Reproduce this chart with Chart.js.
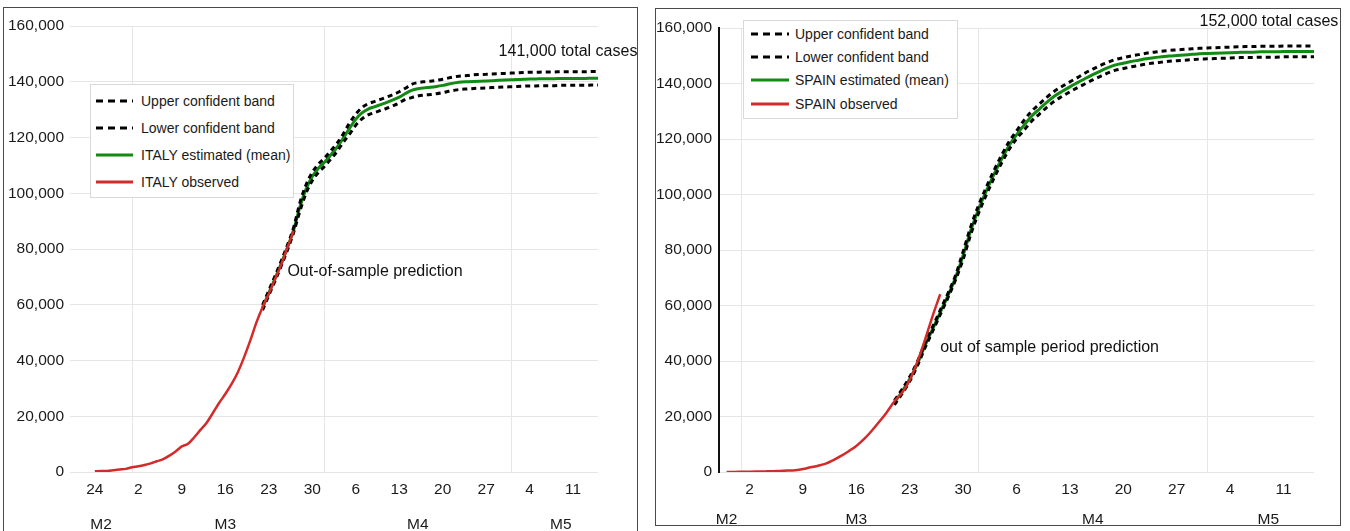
<!DOCTYPE html>
<html>
<head>
<meta charset="utf-8">
<script src="https://cdn.jsdelivr.net/npm/chart.js@4.4.1/dist/chart.umd.min.js"></script>
<style>
  body { margin:0; width:1350px; height:531px; background:#fff; position:relative; overflow:hidden; font-family:"Liberation Sans", Arial, sans-serif; }
  .frame { position:absolute; border:1.5px solid #4a4a4a; box-sizing:border-box; pointer-events:none; }
  .wrap { position:absolute; top:0; height:531px; }
  .legend { position:absolute; background:#fff; border:1px solid #d9d9d9; box-sizing:border-box; font-size:14px; color:#1a1a1a; }
  .legend .row { position:absolute; left:0; display:flex; align-items:center; white-space:nowrap; }
</style>
</head>
<body>
<div class="wrap" style="left:0;width:637px"><canvas id="italy" width="637" height="531"></canvas></div>
<div class="wrap" style="left:650px;width:700px"><canvas id="spain" width="700" height="531"></canvas></div>
<div class="frame" style="left:3px;top:7px;width:635px;height:560px"></div>
<div class="frame" style="left:655px;top:8px;width:686px;height:518px"></div>

<script>
// ---- categories / ticks ----
const monthStarts = ['2020-03-01', '2020-04-01', '2020-05-01'];
const monthNames = ['M2', 'M3', 'M4', 'M5'];
const italyMonthAt = ['2020-02-25', '2020-03-16', '2020-04-16', '2020-05-09'];
const spainMonthAt = ['2020-02-28', '2020-03-16', '2020-04-16', '2020-05-09'];
const italyWeekTicks = ['2020-02-24', '2020-03-02', '2020-03-09', '2020-03-16', '2020-03-23', '2020-03-30',
                        '2020-04-06', '2020-04-13', '2020-04-20', '2020-04-27', '2020-05-04', '2020-05-11'];
const spainWeekTicks = ['2020-03-02', '2020-03-09', '2020-03-16', '2020-03-23', '2020-03-30',
                        '2020-04-06', '2020-04-13', '2020-04-20', '2020-04-27', '2020-05-04', '2020-05-11'];

// ---- ITALY ----
const italyObservedStart = '2020-02-24';
const italyObserved = [229, 322, 400, 650, 888, 1128, 1694, 2036, 2502, 3089, 3858, 4636, 5883, 7375, 9172,
  10149, 12462, 15113, 17660, 21157, 24747, 27980, 31506, 35713, 41035, 47021, 53578, 59138, 63927, 69176,
  74386, 80539, 86498];
const italyModelStart = '2020-03-22';
const italyMean = [59000, 64200, 69400, 74800, 80500, 86800, 95000, 101500, 106000, 109000, 111200, 113800,
  116500, 119800, 123300, 126500, 128800, 130200, 131000, 131800, 132600, 133500, 134500, 135800, 136900,
  137500, 137800, 138000, 138300, 138700, 139200, 139600, 139900, 140000, 140100, 140200, 140300, 140400,
  140500, 140600, 140700, 140800, 140900, 141000, 141000, 141100, 141100, 141100, 141200, 141200, 141200,
  141200, 141200, 141300, 141300];
const italyUpper = [59900, 65100, 70300, 75700, 81400, 87700, 96500, 103000, 107500, 110500, 112700, 115300,
  118000, 121300, 125200, 128400, 130700, 132100, 132900, 133700, 134500, 135400, 136400, 137700, 139100,
  139700, 140000, 140200, 140500, 140900, 141400, 141800, 142100, 142200, 142500, 142600, 142700, 142800,
  142900, 143000, 143100, 143200, 143300, 143400, 143400, 143500, 143500, 143500, 143600, 143600, 143600,
  143600, 143600, 143700, 143700];
const italyLower = [58100, 63300, 68500, 73900, 79600, 85900, 93500, 100000, 104500, 107500, 109700, 112300,
  115000, 118300, 121200, 124400, 126700, 128100, 128900, 129700, 130500, 131400, 132400, 133700, 134300,
  134900, 135200, 135400, 135700, 136100, 136600, 137000, 137300, 137400, 137600, 137700, 137800, 137900,
  138000, 138100, 138200, 138300, 138400, 138500, 138500, 138600, 138600, 138600, 138700, 138700, 138700,
  138700, 138700, 138800, 138800];

// ---- SPAIN ----
const spainObservedStart = '2020-02-28';
const spainObserved = [32, 45, 84, 120, 165, 222, 259, 400, 500, 673, 1073, 1695, 2277, 3000, 4300, 5800,
  7500, 9400, 11826, 14769, 18077, 21571, 25496, 28572, 33089, 39673, 47610, 56188, 64059];
const spainModelStart = '2020-03-21';
const spainMean = [25000, 29000, 33500, 39000, 45500, 51500, 57500, 63500, 70000, 78000, 87000, 94500,
  101000, 107000, 112500, 117500, 121500, 125000, 128300, 130800, 133300, 135500, 137200, 138800, 140300,
  141800, 143200, 144500, 145700, 146700, 147300, 147900, 148400, 148900, 149300, 149600, 149900, 150100,
  150300, 150500, 150700, 150800, 150900, 151000, 151100, 151200, 151300, 151300, 151400, 151400, 151400,
  151500, 151500, 151500, 151500, 151500];
const spainUpper = [25800, 29800, 34300, 39800, 46300, 52300, 58300, 64300, 70800, 79400, 88400, 95900,
  102400, 108400, 113900, 118900, 122900, 126800, 130100, 132600, 135100, 137300, 139000, 140600, 142100,
  143800, 145200, 146500, 147700, 148700, 149300, 149900, 150400, 150900, 151300, 151600, 151900, 152100,
  152300, 152500, 152700, 152800, 152900, 153000, 153100, 153200, 153300, 153300, 153400, 153400, 153400,
  153500, 153500, 153500, 153500, 153500];
const spainLower = [24200, 28200, 32700, 38200, 44700, 50700, 56700, 62700, 69200, 76600, 85600, 93100,
  99600, 105600, 111100, 116100, 120100, 123200, 126500, 129000, 131500, 133700, 135400, 137000, 138500,
  139900, 141300, 142600, 143800, 144800, 145400, 146000, 146500, 147000, 147400, 147700, 148000, 148200,
  148400, 148600, 148800, 148900, 149000, 149100, 149200, 149300, 149400, 149400, 149500, 149500, 149500,
  149600, 149600, 149600, 149600, 149600];

const italyNotes = [
  { text: '141,000 total cases', date: '2020-04-29', value: 150700 },
  { text: 'Out-of-sample prediction', date: '2020-03-26', value: 72000 }
];
const spainNotes = [
  { text: '152,000 total cases', date: '2020-04-30', value: 162200 },
  { text: 'out of sample period prediction', date: '2020-03-27', value: 44700 }
];

const FONT = '"Liberation Sans", Arial, sans-serif';
Chart.defaults.font.family = FONT;
Chart.defaults.color = '#1a1a1a';

function dayList(first, last) {
  const out = [];
  const d = new Date(first + 'T00:00:00Z');
  const end = new Date(last + 'T00:00:00Z');
  while (d <= end) {
    out.push(d.toISOString().slice(0, 10));
    d.setUTCDate(d.getUTCDate() + 1);
  }
  return out;
}

function align(labels, start, values) {
  const pad = labels.indexOf(start);
  const arr = new Array(labels.length).fill(null);
  values.forEach((v, i) => { arr[pad + i] = v; });
  return arr;
}

// text labels drawn at data positions
const notesPlugin = {
  id: 'notes',
  afterDatasetsDraw(chart, args, opts) {
    const ctx = chart.ctx, x = chart.scales.x, y = chart.scales.y;
    ctx.save();
    ctx.font = opts.size + 'px ' + FONT;
    ctx.fillStyle = '#111';
    ctx.textAlign = 'left';
    ctx.textBaseline = 'middle';
    opts.items.forEach(n => {
      ctx.fillText(n.text, x.getPixelForValue(chart.data.labels.indexOf(n.date)), y.getPixelForValue(n.value));
    });
    ctx.restore();
  }
};

function makeChart(id, cfg) {
  const labels = dayList(cfg.first, '2020-05-15');
  const datasets = [
    { label: 'Upper confident band', data: align(labels, cfg.modelStart, cfg.upper),
      borderColor: '#000', borderWidth: 3, borderDash: [5, 4], order: 1 },
    { label: 'Lower confident band', data: align(labels, cfg.modelStart, cfg.lower),
      borderColor: '#000', borderWidth: 3, borderDash: [5, 4], order: 1 },
    { label: cfg.name + ' estimated (mean)', data: align(labels, cfg.modelStart, cfg.mean),
      borderColor: '#138a13', borderWidth: 3, order: 2 },
    { label: cfg.name + ' observed', data: align(labels, cfg.obsStart, cfg.observed),
      borderColor: '#d32a2a', borderWidth: 2.5, order: 0 }
  ];
  datasets.forEach(ds => {
    ds.pointRadius = 0;
    ds.fill = false;
    ds.cubicInterpolationMode = 'monotone';
  });

  return new Chart(document.getElementById(id), {
    type: 'line',
    data: { labels: labels, datasets: datasets },
    plugins: [notesPlugin],
    options: {
      responsive: false,
      animation: false,
      layout: { padding: { top: cfg.top, right: cfg.right, left: 0, bottom: 0 } },
      plugins: {
        legend: { display: false },
        tooltip: { enabled: false },
        notes: { items: cfg.notes, size: 16 }
      },
      scales: {
        y: {
          min: 0, max: 160000,
          afterFit: s => { s.width = cfg.yWidth; },
          ticks: { stepSize: 20000, padding: cfg.yPad, font: { size: 15.5 },
                   callback: v => v.toLocaleString('en-US') },
          grid: { color: '#e6e6e6', drawTicks: false },
          border: cfg.yBorder
        },
        x: {
          afterFit: s => { s.height = cfg.xHeight; },
          ticks: {
            autoSkip: false, maxRotation: 0, minRotation: 0, padding: 8, font: { size: 15.5 },
            callback: (v, i) => cfg.weeks.includes(labels[i]) ? String(Number(labels[i].slice(8))) : ''
          },
          grid: {
            drawTicks: false,
            color: c => monthStarts.includes(labels[c.index]) ? '#e6e6e6' : 'rgba(0,0,0,0)'
          },
          border: { display: false }
        },
        m: {
          position: 'bottom',
          afterFit: s => { s.height = 59 - cfg.xHeight; },
          ticks: {
            autoSkip: false, maxRotation: 0, minRotation: 0, padding: cfg.mPad, font: { size: 15.5 },
            callback: (v, i) => {
              const k = cfg.monthAt.indexOf(labels[i]);
              return k >= 0 ? monthNames[k] : '';
            }
          },
          grid: { display: false },
          border: { display: false }
        }
      }
    }
  });
}

function makeLegend(chart, box) {
  const div = document.createElement('div');
  div.className = 'legend';
  Object.assign(div.style, { left: box.left + 'px', top: box.top + 'px', width: box.width + 'px', height: box.height + 'px' });
  chart.data.datasets.forEach((ds, i) => {
    const row = document.createElement('div');
    row.className = 'row';
    row.style.top = (box.padTop + i * box.rowH) + 'px';
    row.style.height = box.rowH + 'px';
    const dash = ds.borderDash ? 'stroke-dasharray="7 5"' : '';
    row.innerHTML = '<svg width="' + (box.symW + box.symLeft) + '" height="10" style="margin-right:' + box.gap + 'px">' +
      '<line x1="' + box.symLeft + '" y1="5" x2="' + (box.symLeft + box.symW) + '" y2="5" stroke="' + ds.borderColor +
      '" stroke-width="3" ' + dash + '/></svg><span>' + ds.label + '</span>';
    div.appendChild(row);
  });
  document.body.appendChild(div);
}

const italyChart = makeChart('italy', {
  name: 'ITALY', first: '2020-02-20', weeks: italyWeekTicks, monthAt: italyMonthAt,
  observed: italyObserved, obsStart: italyObservedStart, modelStart: italyModelStart,
  mean: italyMean, upper: italyUpper, lower: italyLower, notes: italyNotes,
  top: 26, right: 39, yWidth: 70, yPad: 6, xHeight: 28, mPad: 7, yBorder: { display: false }
});
const spainChart = makeChart('spain', {
  name: 'SPAIN', first: '2020-02-27', weeks: spainWeekTicks, monthAt: spainMonthAt,
  observed: spainObserved, obsStart: spainObservedStart, modelStart: spainModelStart,
  mean: spainMean, upper: spainUpper, lower: spainLower, notes: spainNotes,
  top: 28, right: 36, yWidth: 69, yPad: 7, xHeight: 27, mPad: 3, yBorder: { display: true, color: '#111', width: 2 }
});

makeLegend(italyChart, { left: 90, top: 84, width: 204, height: 114, padTop: 2, rowH: 27, symLeft: 5, symW: 37, gap: 8 });
makeLegend(spainChart, { left: 743, top: 20, width: 215, height: 99, padTop: 1, rowH: 23.3, symLeft: 7, symW: 38, gap: 6 });
</script>
</body>
</html>
